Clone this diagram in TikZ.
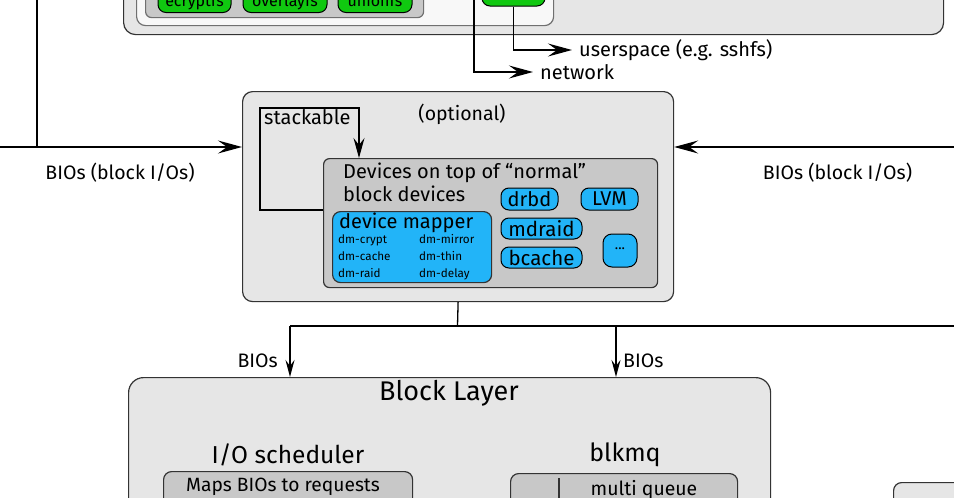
\documentclass[tikz,border=0pt]{standalone}
\usepackage{fontspec}
\setmainfont{Fira Sans}
\usetikzlibrary{arrows.meta}
\definecolor{lgray}{HTML}{E6E6E6}
\definecolor{mgray}{HTML}{C8C8C8}
\definecolor{wgray}{HTML}{F8F8F8}
\definecolor{pgreen}{HTML}{10C810}
\definecolor{pblue}{HTML}{22B4F8}
\definecolor{edge}{HTML}{333333}
\begin{document}
\begin{tikzpicture}[x=1pt,y=-1pt,
  box/.style={draw=edge, line width=1.2pt, inner sep=0pt, anchor=north west},
  pill/.style={draw=black, line width=1pt, inner sep=0pt, rounded corners=8pt},
  lbl/.style={inner sep=0pt, font=\fontsize{19.5}{22}\selectfont},
  conn/.style={line width=1.3pt, draw=black},
  bigarr/.style={conn, -{Stealth[length=24pt,width=13pt,inset=9pt]}},
  smallarr/.style={conn, -{Stealth[length=17pt,width=9pt,inset=6pt]}},
  stkarr/.style={conn, -{Stealth[length=20pt,width=11pt,inset=7pt]}},
]
\useasboundingbox (0,0) rectangle (954,498);
\clip (0,0) rectangle (954,498);
\fill[white] (0,0) rectangle (954,498);

% ---- VFS area (top, cropped)
\node[box, fill=lgray, rounded corners=12pt, minimum width=820pt, minimum height=94pt] (vfs) at (123,-60) {};
\node[box, draw=edge!70, fill=wgray, rounded corners=9pt, minimum width=417pt, minimum height=85pt] (vfsin) at (136,-60) {};
\node[box, draw=edge!70, fill=mgray, rounded corners=6pt, minimum width=278pt, minimum height=57pt] (stackfs) at (145,-40) {};
\node[pill, fill=pgreen, minimum width=73pt, minimum height=24pt] (ecr) at (194.5,0.5) {};
\node[lbl, anchor=base, font=\fontsize{16}{18}\selectfont] (ecrt) at (194.5,6) {ecryptfs};
\node[pill, fill=pgreen, minimum width=84pt, minimum height=24pt] (ovl) at (285,0.5) {};
\node[lbl, anchor=base, font=\fontsize{16}{18}\selectfont] (ovlt) at (285,6) {overlayfs};
\node[pill, fill=pgreen, minimum width=74pt, minimum height=24pt] (uni) at (375,0.5) {};
\node[lbl, anchor=base, font=\fontsize{16}{18}\selectfont] (unit) at (375,6) {unionfs};
\node[pill, fill=pgreen, minimum width=63pt, minimum height=24pt] (fuse) at (513.5,-6) {};
\node[lbl, anchor=base, font=\fontsize{16}{18}\selectfont] (fuset) at (513.5,-1) {FUSE};

% ---- network / userspace
\coordinate (netTop) at (474,-5);
\node[lbl, anchor=west, inner xsep=7pt, font=\fontsize{20}{22}\selectfont] (usr) at (572,50) {userspace (e.g. sshfs)};
\node[lbl, anchor=west, inner xsep=7pt, font=\fontsize{20}{22}\selectfont] (net) at (533,72) {network};
\draw[bigarr] (fuse.south) |- (usr.west);
\draw[bigarr] (netTop) |- (net.west);

% ---- optional box
\node[box, fill=lgray, rounded corners=10pt, minimum width=431pt, minimum height=210pt] (opt) at (242,91) {};
\node[lbl, font=\fontsize{19.5}{22}\selectfont] (optt) at (462,114) {(optional)};
\node[box, fill=mgray, rounded corners=6pt, minimum width=334pt, minimum height=129pt] (dev) at (323,158) {};
\node[lbl, anchor=base west, font=\fontsize{20}{22}\selectfont] (devt1) at (343,178) {Devices on top of “normal”};
\node[lbl, anchor=base west, font=\fontsize{20}{22}\selectfont] (devt2) at (343,201.5) {block devices};
\node[lbl, anchor=base west, font=\fontsize{20}{22}\selectfont] (stk) at (264,124) {stackable};
\draw[stkarr] (dev.west |- 0,210) -| (260,108) -| ([xshift=36pt]dev.north west);

\node[box, fill=pblue, rounded corners=8pt, minimum width=159pt, minimum height=71pt] (dm) at (332,211) {};
\node[lbl, anchor=base west, font=\fontsize{20}{22}\selectfont] (dmt) at (339,228) {device mapper};
\begin{scope}[every node/.style={lbl, anchor=base west, font=\fontsize{11.7}{13}\selectfont}]
\node (d1) at (338,243.5) {dm-crypt};
\node (d2) at (419,243.5) {dm-mirror};
\node (d3) at (338,260.5) {dm-cache};
\node (d4) at (419,260.5) {dm-thin};
\node (d5) at (338,277) {dm-raid};
\node (d6) at (419,277) {dm-delay};
\end{scope}
\node[pill, fill=pblue, minimum width=57pt, minimum height=22pt, font=\fontsize{20}{22}\selectfont] (drbd) at (529.5,199) {drbd};
\node[pill, fill=pblue, minimum width=57pt, minimum height=22pt, font=\fontsize{20}{22}\selectfont] (lvm) at (609.5,199) {LVM};
\node[pill, fill=pblue, minimum width=81pt, minimum height=21pt, font=\fontsize{20.5}{22}\selectfont] (mdraid) at (541.5,228.5) {mdraid};
\node[pill, fill=pblue, minimum width=81pt, minimum height=21pt, font=\fontsize{20.5}{22}\selectfont] (bcache) at (541.5,257.5) {bcache};
\node[pill, fill=pblue, rounded corners=9pt, minimum width=34pt, minimum height=33pt, font=\fontsize{14}{16}\selectfont] (more) at (620,250.5) {\raisebox{3pt}{...}};

% ---- BIOs side arrows
\coordinate (lTop) at (37,-5);
\coordinate (lStart) at (-5,147);
\coordinate (rStart) at (960,147);
\draw[bigarr] (lStart) -- (lStart -| opt.west);
\draw[conn] (lTop) -- (lTop |- lStart);
\draw[bigarr] (rStart) -- (rStart -| opt.east);
\node[lbl] (biosl) at (120,173) {BIOs (block I/Os)};
\node[lbl] (biosr) at (837.5,173) {BIOs (block I/Os)};

% ---- block layer
\node[box, fill=lgray, rounded corners=15pt, minimum width=642pt, minimum height=200pt] (blk) at (128,377) {};
\node[lbl, font=\fontsize{27}{30}\selectfont] (blkt) at (449,393) {Block Layer};
\node[lbl, font=\fontsize{24.5}{27}\selectfont] (iosch) at (288,455) {I/O scheduler};
\node[lbl, font=\fontsize{25}{27}\selectfont] (blkmq) at (625,455) {blkmq};
\node[box, fill=mgray, rounded corners=8pt, minimum width=249pt, minimum height=60pt] (maps) at (163,471) {};
\node[lbl, font=\fontsize{19.2}{22}\selectfont] (mapst) at (283,487) {Maps BIOs to requests};
\node[box, fill=mgray, rounded corners=8pt, minimum width=227pt, minimum height=60pt] (mq) at (510,473) {};
\node[lbl, font=\fontsize{19.4}{22}\selectfont] (mqt) at (644,490) {multi queue};
\coordinate (mqL) at (559,478);
\draw[conn, draw=edge] (mqL) -- (559,510);
\node[box, fill=lgray, rounded corners=8pt, minimum width=100pt, minimum height=60pt] (rbox) at (893,482) {};

% ---- BIOs down
\coordinate (hj) at (457.5,326);
\coordinate (hL) at (290,326);
\coordinate (hR) at (960,326);
\coordinate (hM) at (616,326);
\draw[conn] (opt.south) -- (hj);
\draw[conn] (hL) -- (hR);
\draw[smallarr] (hL) -- (hL |- blk.north);
\draw[smallarr] (hM) -- (hM |- blk.north);
\node[lbl, anchor=east] (bios1) at (278,361) {BIOs};
\node[lbl, anchor=west] (bios2) at (623,361) {BIOs};
\end{tikzpicture}
\end{document}
